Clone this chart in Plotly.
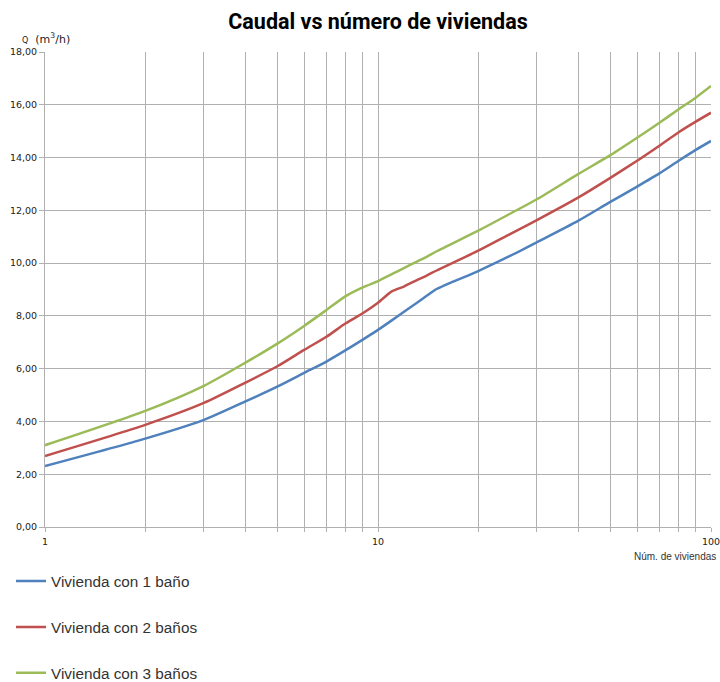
import plotly.graph_objects as go

# número de viviendas
viviendas = [1, 2, 3, 4, 5, 6, 7, 8, 9, 10, 11, 12, 13, 14, 15, 20, 25, 30, 40, 50, 60, 70, 80, 90, 100]

# caudal (m3/h)
banio_1 = [2.31, 3.35, 4.06, 4.76, 5.33, 5.84, 6.27, 6.70, 7.10, 7.47, 7.83, 8.17, 8.47, 8.76, 9.02,
           9.70, 10.28, 10.79, 11.61, 12.33, 12.90, 13.40, 13.88, 14.29, 14.63]
banio_2 = [2.69, 3.87, 4.70, 5.47, 6.10, 6.71, 7.21, 7.72, 8.10, 8.50, 8.93, 9.12, 9.34, 9.53, 9.72,
           10.47, 11.11, 11.63, 12.49, 13.24, 13.88, 14.45, 14.96, 15.36, 15.70]
banio_3 = [3.10, 4.40, 5.35, 6.23, 6.96, 7.62, 8.22, 8.75, 9.08, 9.32, 9.58, 9.82, 10.04, 10.24, 10.45,
           11.23, 11.88, 12.42, 13.38, 14.10, 14.75, 15.32, 15.83, 16.27, 16.71]

nombres = ["Vivienda con 1 baño", "Vivienda con 2 baños", "Vivienda con 3 baños"]
colores = ["#4F81BD", "#C0504D", "#9BBB59"]

x_major = [1, 10, 100]
x_minor = [2, 3, 4, 5, 6, 7, 8, 9, 20, 30, 40, 50, 60, 70, 80, 90]
y_ticks = [0, 2, 4, 6, 8, 10, 12, 14, 16, 18]

fig = go.Figure()
for i, (serie, nombre, color) in enumerate(zip([banio_1, banio_2, banio_3], nombres, colores)):
    fig.add_trace(go.Scatter(x=viviendas, y=serie, mode="lines", name=nombre,
                             legendgroup=str(i),
                             line=dict(color=color, width=2.5, shape="spline", smoothing=0.7)))

grid = "#b0b0b0"
fig.update_layout(
    width=720, height=682,
    margin=dict(l=45, r=9, t=52, b=155, autoexpand=False),
    paper_bgcolor="white", plot_bgcolor="white",
    separators=",.",
    title=dict(text="<b>Caudal vs número de viviendas</b>", x=0.5, xref="paper",
               y=1 - 21 / 682, yref="container", yanchor="middle",
               font=dict(family="Roboto", size=21.5, color="black")),
    font=dict(family="DejaVu Sans", size=9, color="#222"),
    xaxis=dict(type="log", range=[0, 2], tickvals=x_major,
               showgrid=True, gridcolor=grid, gridwidth=1, automargin=False,
               showline=True, linecolor=grid, ticks="outside", ticklen=4, tickcolor=grid,
               ticklabelstandoff=2, ticklabeloverflow="allow",
               minor=dict(tickvals=x_minor, showgrid=True, gridcolor=grid, gridwidth=1,
                          ticks="outside", ticklen=4, tickcolor=grid),
               tickfont=dict(size=9.5)),
    yaxis=dict(range=[0, 18], tickvals=y_ticks, tickformat=".2f",
               showgrid=True, gridcolor=grid, gridwidth=1, automargin=False,
               showline=True, linecolor=grid, ticks="outside", ticklen=5, tickcolor=grid,
               zeroline=False, tickfont=dict(size=9.5), ticklabeloverflow="allow"),
    legend=dict(x=-0.051, xanchor="left", y=-0.0792, yanchor="top",
                orientation="v", tracegroupgap=23,
                font=dict(family="Liberation Sans", size=15.3, color="#333")),
)

fig.add_annotation(text="<span style='font-size:8px'>Q</span>  (m<sup>3</sup>/h)",
                   xref="paper", yref="paper", x=-0.0375, y=1.0, yshift=4,
                   xanchor="left", yanchor="bottom", showarrow=False,
                   font=dict(family="DejaVu Sans", size=11, color="#222"))
fig.add_annotation(text="Núm. de viviendas", xref="paper", yref="paper",
                   x=1.0, y=0, xshift=7, yshift=-22, xanchor="right", yanchor="top",
                   showarrow=False, font=dict(family="Liberation Sans", size=10, color="#333"))

# drop the browser's default 8px body margin so the figure fills the window
fig.write_html("out.html", config={"displayModeBar": False},
               post_script="document.body.style.margin='0';document.body.style.overflow='hidden';")
